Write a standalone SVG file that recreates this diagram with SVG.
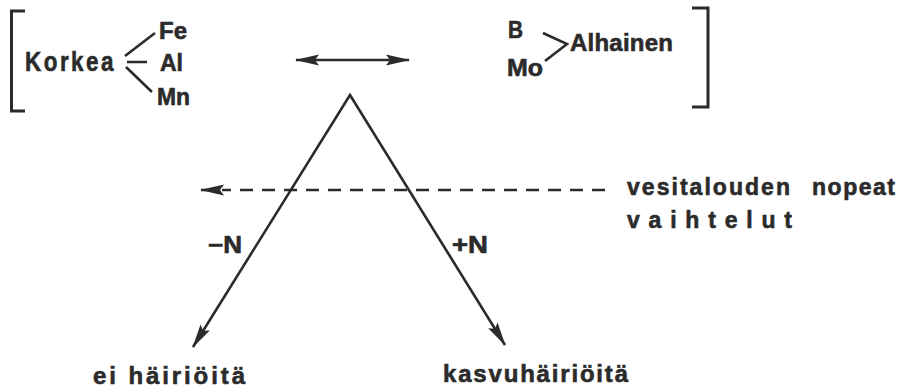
<svg xmlns="http://www.w3.org/2000/svg" width="907" height="390" viewBox="0 0 907 390">
<defs>
<style>
text{font-family:"Liberation Sans",Arial,sans-serif;font-weight:bold;fill:#2b2b2b;stroke:#2b2b2b;stroke-width:0.6}
.ln{fill:none;stroke:#2b2b2b;stroke-width:2.6}
.br{fill:none;stroke:#2b2b2b;stroke-width:3}
</style>
<marker id="ah" viewBox="-24 -7 26 14" refX="0" refY="0" markerWidth="26" markerHeight="14" markerUnits="userSpaceOnUse" orient="auto-start-reverse">
<path d="M1,0 L-23,-5.5 L-19,0 L-23,5.5 Z" fill="#2b2b2b"/>
</marker>
</defs>
<rect width="907" height="390" fill="#fff"/>
<g id="korkea">
<path class="br" d="M25,11 H11.5 V111 H25"/>
<text x="25" y="71" font-size="27" textLength="91" lengthAdjust="spacingAndGlyphs" letter-spacing="3">Korkea</text>
<path class="ln" d="M125,56 L155,33 M127,62 H147 M126,67 L152,92"/>
<text x="159" y="39" font-size="23" textLength="28" lengthAdjust="spacingAndGlyphs">Fe</text>
<text x="160" y="71" font-size="23" textLength="23" lengthAdjust="spacingAndGlyphs">Al</text>
<text x="157" y="105" font-size="23" textLength="33" lengthAdjust="spacingAndGlyphs">Mn</text>
</g>
<g id="alhainen">
<path class="br" d="M692,8 H708 V107 H692"/>
<text x="508" y="38" font-size="23" textLength="15" lengthAdjust="spacingAndGlyphs">B</text>
<text x="507" y="76" font-size="23" textLength="36" lengthAdjust="spacingAndGlyphs">Mo</text>
<path class="ln" d="M543,33 L567,44 L545,61"/>
<text x="570" y="51" font-size="24" textLength="103" lengthAdjust="spacing">Alhainen</text>
</g>
<g id="connectors">
<path class="ln" stroke-width="3" d="M296,60 H409" marker-start="url(#ah)" marker-end="url(#ah)"/>
<path class="ln" d="M193,347 L350,95 L505,345" marker-start="url(#ah)" marker-end="url(#ah)"/>
<path class="ln" stroke-width="3" stroke-dasharray="13 9" d="M605,190 H222"/>
<path class="ln" stroke-width="3" d="M215,190 H201" marker-end="url(#ah)"/>
</g>
<g id="labels">
<text x="627" y="195" font-size="23" textLength="163" lengthAdjust="spacing">vesitalouden</text>
<text x="812" y="195" font-size="23" textLength="83" lengthAdjust="spacing">nopeat</text>
<text x="627" y="228" font-size="23" textLength="165" lengthAdjust="spacing">vaihtelut</text>
<text x="208" y="253" font-size="23" textLength="34" lengthAdjust="spacingAndGlyphs">−N</text>
<text x="452" y="253" font-size="23" textLength="36" lengthAdjust="spacingAndGlyphs">+N</text>
<text x="93" y="384" font-size="24" textLength="152" lengthAdjust="spacing">ei häiriöitä</text>
<text x="443" y="382" font-size="24" textLength="185" lengthAdjust="spacing">kasvuhäiriöitä</text>
</g>
</svg>
